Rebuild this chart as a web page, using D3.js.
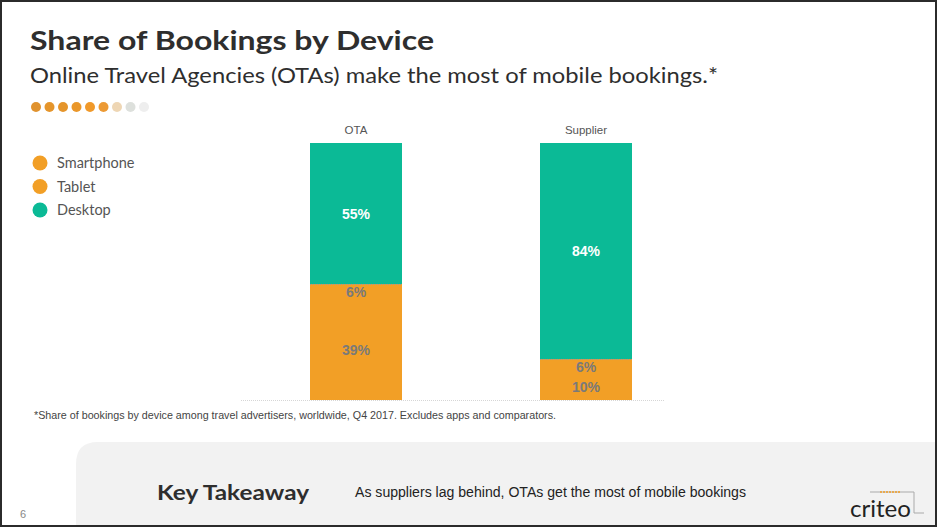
<!DOCTYPE html>
<html><head><meta charset="utf-8">
<script src="https://cdn.jsdelivr.net/npm/d3@7"></script>
<style>
html,body{margin:0;padding:0;background:#fff;}
svg{display:block;}
</style></head>
<body>
<script>
const categories = ["OTA", "Supplier"];
const seriesNames = ["Smartphone", "Tablet", "Desktop"];
const smartphone = [0.39, 0.10];
const tablet = [0.06, 0.06];
const desktop = [0.55, 0.84];
const valueLabels = [["39%", "10%"], ["6%", "6%"], ["55%", "84%"]];
const seriesColors = ["#F29F26", "#F29F26", "#0BBA96"];
const labelColors = ["#7a7a7a", "#7a7a7a", "#ffffff"];
const dotColors = ["#e0922e", "#e5952b", "#e5952b", "#ea972a", "#f0992a", "#ec9a34", "#eed6b4", "#dde0dc", "#eeeeee"];

const W = 937, H = 527;
const svg = d3.select("body").append("svg").attr("width", W).attr("height", H);
const font = "'Century Gothic','URW Gothic','Lato','DejaVu Sans',sans-serif";

// footer panel
svg.append("path")
  .attr("d", `M76,527 L76,464 Q76,442 98,442 L937,442 L937,527 Z`)
  .attr("fill", "#f2f2f2");

// title
svg.append("text").attr("x", 30).attr("y", 50).text("Share of Bookings by Device")
  .attr("font-family", font).attr("font-weight", "bold").attr("font-size", 27).attr("fill", "#2e2e2e")
  .attr("textLength", 404).attr("lengthAdjust", "spacingAndGlyphs");
svg.append("text").attr("x", 30).attr("y", 83).text("Online Travel Agencies (OTAs) make the most of mobile bookings.*")
  .attr("font-family", font).attr("font-size", 21).attr("fill", "#2e2e2e")
  .attr("textLength", 688).attr("lengthAdjust", "spacingAndGlyphs");

// dots
const dx = d3.scaleLinear().domain([0, dotColors.length - 1]).range([36, 144]);
svg.selectAll("circle.dot").data(dotColors).join("circle").attr("class", "dot")
  .attr("cx", (d, i) => dx(i)).attr("cy", 107).attr("r", 5).attr("fill", d => d);

// legend
const legendOrder = [0, 1, 2];
const ly = d3.scaleLinear().domain([0, 2]).range([163, 210]);
const lg = svg.append("g");
legendOrder.forEach((k, i) => {
  lg.append("circle").attr("cx", 40).attr("cy", ly(i)).attr("r", 7.5).attr("fill", seriesColors[k]);
  lg.append("text").attr("x", 57).attr("y", ly(i) + 5).text(seriesNames[k])
    .attr("font-family", font).attr("font-size", 14.5).attr("fill", "#555");
});

// chart
const x = d3.scaleBand().domain(categories).range([241, 701]).paddingInner(0.6).paddingOuter(0.3);
const y = d3.scaleLinear().domain([0, 1]).range([400, 143]);

const table = categories.map((c, i) => ({cat: c, Smartphone: smartphone[i], Tablet: tablet[i], Desktop: desktop[i], idx: i}));
const stack = d3.stack().keys(seriesNames)(table);

// baseline
svg.append("line").attr("x1", 241).attr("x2", 665).attr("y1", 400.5).attr("y2", 400.5)
  .attr("stroke", "#d6d6d6").attr("stroke-width", 1).attr("stroke-dasharray", "1,1");

const layers = svg.selectAll("g.layer").data(stack).join("g").attr("class", "layer");
layers.each(function(s, si) {
  const g = d3.select(this);
  g.selectAll("rect").data(s).join("rect")
    .attr("x", d => x(d.data.cat)).attr("width", x.bandwidth())
    .attr("y", d => Math.round(y(d[1]))).attr("height", d => Math.round(y(d[0])) - Math.round(y(d[1])))
    .attr("shape-rendering", "crispEdges")
    .attr("fill", seriesColors[si]);
  g.selectAll("text").data(s).join("text")
    .attr("x", d => x(d.data.cat) + x.bandwidth() / 2)
    .attr("y", d => (y(d[0]) + y(d[1])) / 2 + 5)
    .attr("text-anchor", "middle")
    .attr("font-family", "Arial, 'Liberation Sans', sans-serif").attr("font-weight", "bold")
    .attr("font-size", 14).attr("fill", labelColors[si])
    .text(d => valueLabels[si][d.data.idx]);
});

// separators between tablet and desktop (dotted grey)
svg.selectAll("line.sep").data(stack[1]).join("line").attr("class", "sep")
  .attr("x1", d => x(d.data.cat)).attr("x2", d => x(d.data.cat) + x.bandwidth())
  .attr("y1", d => Math.round(y(d[1])) + 0.5).attr("y2", d => Math.round(y(d[1])) + 0.5)
  .attr("stroke", "#9a9a9a").attr("stroke-dasharray", "1,1");

// category labels
svg.selectAll("text.cat").data(categories).join("text").attr("class", "cat")
  .attr("x", d => x(d) + x.bandwidth() / 2).attr("y", 134).attr("text-anchor", "middle")
  .attr("font-family", "Arial, 'Liberation Sans', sans-serif").attr("font-size", 11.5).attr("fill", "#555")
  .text(d => d);

// footnote
svg.append("text").attr("x", 34).attr("y", 419)
  .text("*Share of bookings by device among travel advertisers, worldwide, Q4 2017. Excludes apps and comparators.")
  .attr("font-family", "Arial, 'Liberation Sans', sans-serif").attr("font-size", 11).attr("fill", "#444")
  .attr("textLength", 522).attr("lengthAdjust", "spacingAndGlyphs");

// footer texts
svg.append("text").attr("x", 157).attr("y", 500).text("Key Takeaway")
  .attr("font-family", font).attr("font-weight", "bold").attr("font-size", 21).attr("fill", "#2e2e2e")
  .attr("textLength", 152).attr("lengthAdjust", "spacingAndGlyphs");
svg.append("text").attr("x", 355).attr("y", 497).text("As suppliers lag behind, OTAs get the most of mobile bookings")
  .attr("font-family", "'Liberation Sans Narrow', Arial, sans-serif").attr("font-size", 14).attr("fill", "#222")
  .attr("textLength", 391).attr("lengthAdjust", "spacingAndGlyphs");
svg.append("text").attr("x", 20).attr("y", 518).text("6")
  .attr("font-family", "Arial, sans-serif").attr("font-size", 11).attr("fill", "#888");

// criteo logo
svg.append("text").attr("x", 850).attr("y", 517).text("criteo")
  .attr("font-family", font).attr("font-size", 24).attr("fill", "#222")
  .attr("textLength", 61).attr("lengthAdjust", "spacingAndGlyphs");
svg.append("path").attr("d", "M870,492 L914,492 L914,513 L924,513")
  .attr("fill", "none").attr("stroke", "#aaa").attr("stroke-width", 1);
svg.append("line").attr("x1", 880).attr("x2", 900).attr("y1", 492).attr("y2", 492)
  .attr("stroke", "#F29F26").attr("stroke-width", 1.5).attr("stroke-dasharray", "2,1");

// frame
svg.append("rect").attr("x", 1).attr("y", 1).attr("width", W - 2).attr("height", H - 2)
  .attr("fill", "none").attr("stroke", "#2b2b2b").attr("stroke-width", 2);
</script>
</body></html>
